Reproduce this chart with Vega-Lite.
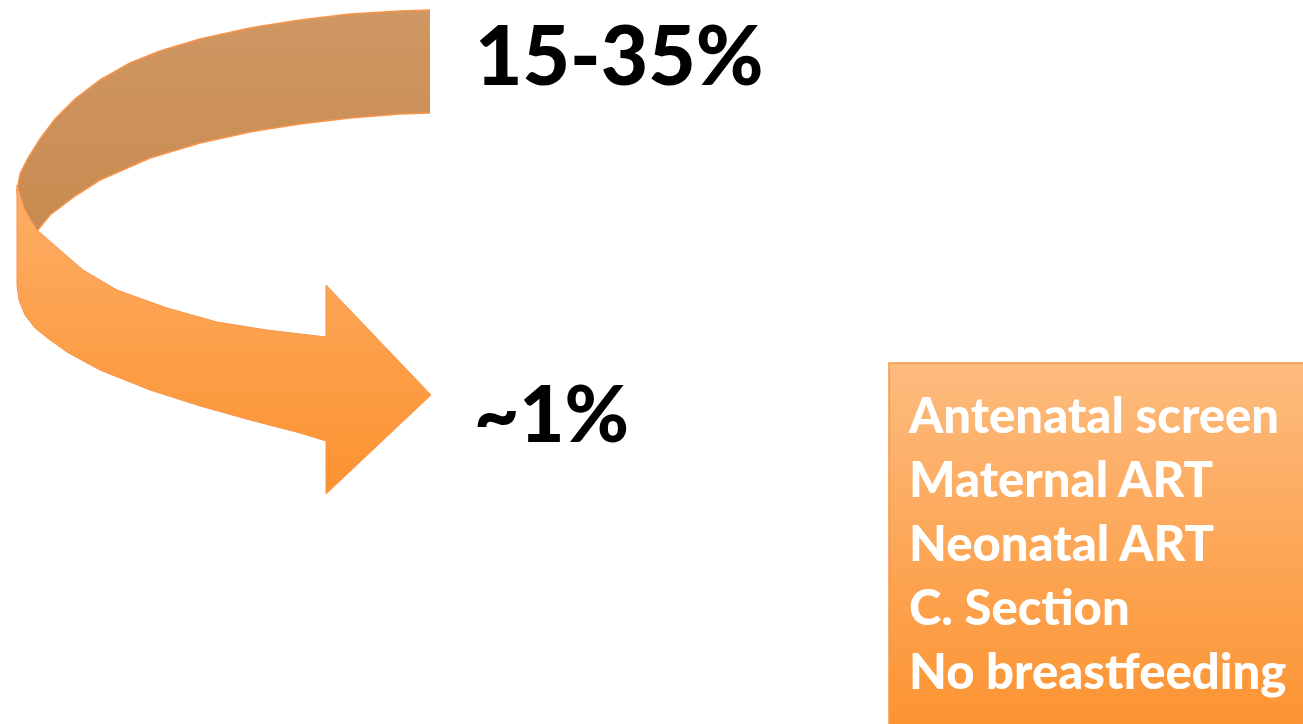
{
  "$schema": "https://vega.github.io/schema/vega-lite/v6.json",
  "width": 1303,
  "height": 724,
  "autosize": {"type": "fit", "contains": "padding"},
  "padding": 0,
  "background": "white",
  "config": {"view": {"stroke": null}},
  "datasets": {
    "brown": [
      {"i": 0, "x": 430, "y": 10}, {"i": 1, "x": 400, "y": 11}, {"i": 2, "x": 350, "y": 14}, {"i": 3, "x": 300, "y": 20},
      {"i": 4, "x": 250, "y": 28}, {"i": 5, "x": 200, "y": 39}, {"i": 6, "x": 160, "y": 51}, {"i": 7, "x": 130, "y": 63},
      {"i": 8, "x": 100, "y": 80}, {"i": 9, "x": 75, "y": 99}, {"i": 10, "x": 55, "y": 119}, {"i": 11, "x": 40, "y": 139},
      {"i": 12, "x": 28, "y": 158}, {"i": 13, "x": 20, "y": 174}, {"i": 14, "x": 17, "y": 190}, {"i": 15, "x": 20, "y": 212},
      {"i": 16, "x": 37, "y": 231}, {"i": 17, "x": 50, "y": 215}, {"i": 18, "x": 75, "y": 196}, {"i": 19, "x": 100, "y": 180},
      {"i": 20, "x": 150, "y": 158}, {"i": 21, "x": 200, "y": 143}, {"i": 22, "x": 250, "y": 132}, {"i": 23, "x": 300, "y": 124},
      {"i": 24, "x": 350, "y": 118}, {"i": 25, "x": 400, "y": 114}, {"i": 26, "x": 430, "y": 113}
    ],
    "orange": [
      {"i": 0, "x": 17, "y": 185}, {"i": 1, "x": 17, "y": 220}, {"i": 2, "x": 17, "y": 255}, {"i": 3, "x": 17, "y": 285},
      {"i": 4, "x": 19, "y": 300}, {"i": 5, "x": 25, "y": 315}, {"i": 6, "x": 35, "y": 328}, {"i": 7, "x": 50, "y": 340},
      {"i": 8, "x": 67, "y": 352}, {"i": 9, "x": 85, "y": 362}, {"i": 10, "x": 100, "y": 370}, {"i": 11, "x": 125, "y": 380},
      {"i": 12, "x": 150, "y": 390}, {"i": 13, "x": 200, "y": 406}, {"i": 14, "x": 250, "y": 420}, {"i": 15, "x": 300, "y": 433},
      {"i": 16, "x": 326, "y": 441}, {"i": 17, "x": 326, "y": 494}, {"i": 18, "x": 431, "y": 395}, {"i": 19, "x": 326, "y": 285},
      {"i": 20, "x": 326, "y": 337}, {"i": 21, "x": 267, "y": 330}, {"i": 22, "x": 217, "y": 322}, {"i": 23, "x": 167, "y": 308},
      {"i": 24, "x": 117, "y": 290}, {"i": 25, "x": 83, "y": 270}, {"i": 26, "x": 60, "y": 250}, {"i": 27, "x": 37, "y": 230},
      {"i": 28, "x": 25, "y": 210}, {"i": 29, "x": 17, "y": 185}
    ],
    "box": [{"x": 889, "x2": 1310, "y": 363, "y2": 730}],
    "big": [
      {"x": 475, "y": 85, "label": "15-35%"}
    ],
    "small": [
      {"x": 474, "y": 442, "label": "~1%"}
    ],
    "list": [
      {"x": 909, "y": 433, "label": "Antenatal screen"},
      {"x": 909, "y": 497, "label": "Maternal ART"},
      {"x": 909, "y": 561, "label": "Neonatal ART"},
      {"x": 909, "y": 625, "label": "C. Section"},
      {"x": 909, "y": 689, "label": "No breastfeeding"}
    ]
  },
  "layer": [
    {
      "data": {"name": "brown"},
      "mark": {
        "type": "line",
        "interpolate": "linear",
        "fill": {"gradient": "linear", "x1": 0, "y1": 0, "x2": 0, "y2": 1,
          "stops": [{"offset": 0, "color": "#cf9763"}, {"offset": 1, "color": "#c98a50"}]},
        "stroke": "#f7954a",
        "strokeWidth": 1.5
      },
      "encoding": {
        "x": {"field": "x", "type": "quantitative", "scale": {"domain": [0, 1303], "nice": false, "zero": false}, "axis": null},
        "y": {"field": "y", "type": "quantitative", "scale": {"domain": [0, 724], "nice": false, "zero": false, "reverse": true}, "axis": null},
        "order": {"field": "i", "type": "quantitative"}
      }
    },
    {
      "data": {"name": "orange"},
      "mark": {
        "type": "line",
        "interpolate": "linear",
        "fill": {"gradient": "linear", "x1": 0, "y1": 0, "x2": 0, "y2": 1,
          "stops": [{"offset": 0, "color": "#fdae66"}, {"offset": 1, "color": "#fc9230"}]},
        "stroke": "#f7954a",
        "strokeWidth": 1
      },
      "encoding": {
        "x": {"field": "x", "type": "quantitative", "axis": null},
        "y": {"field": "y", "type": "quantitative", "axis": null},
        "order": {"field": "i", "type": "quantitative"}
      }
    },
    {
      "data": {"name": "box"},
      "mark": {
        "type": "rect",
        "clip": true,
        "fill": {"gradient": "linear", "x1": 0, "y1": 0, "x2": 0, "y2": 1,
          "stops": [{"offset": 0, "color": "#fdbb7e"}, {"offset": 1, "color": "#fc9331"}]},
        "stroke": "#f79646",
        "strokeWidth": 1.5
      },
      "encoding": {
        "x": {"field": "x", "type": "quantitative", "axis": null},
        "x2": {"field": "x2"},
        "y": {"field": "y", "type": "quantitative", "axis": null},
        "y2": {"field": "y2"}
      }
    },
    {
      "data": {"name": "big"},
      "mark": {"type": "text", "font": "Lato", "fontWeight": 900, "fontSize": 82, "color": "#000000", "align": "left", "baseline": "alphabetic"},
      "encoding": {
        "x": {"field": "x", "type": "quantitative", "axis": null},
        "y": {"field": "y", "type": "quantitative", "axis": null},
        "text": {"field": "label"}
      }
    },
    {
      "data": {"name": "small"},
      "mark": {"type": "text", "font": "Lato", "fontWeight": 900, "fontSize": 78, "color": "#000000", "align": "left", "baseline": "alphabetic"},
      "encoding": {
        "x": {"field": "x", "type": "quantitative", "axis": null},
        "y": {"field": "y", "type": "quantitative", "axis": null},
        "text": {"field": "label"}
      }
    },
    {
      "data": {"name": "list"},
      "mark": {"type": "text", "font": "Lato", "fontWeight": 900, "fontSize": 49, "color": "#ffffff", "align": "left", "baseline": "alphabetic"},
      "encoding": {
        "x": {"field": "x", "type": "quantitative", "axis": null},
        "y": {"field": "y", "type": "quantitative", "axis": null},
        "text": {"field": "label"}
      }
    }
  ]
}
